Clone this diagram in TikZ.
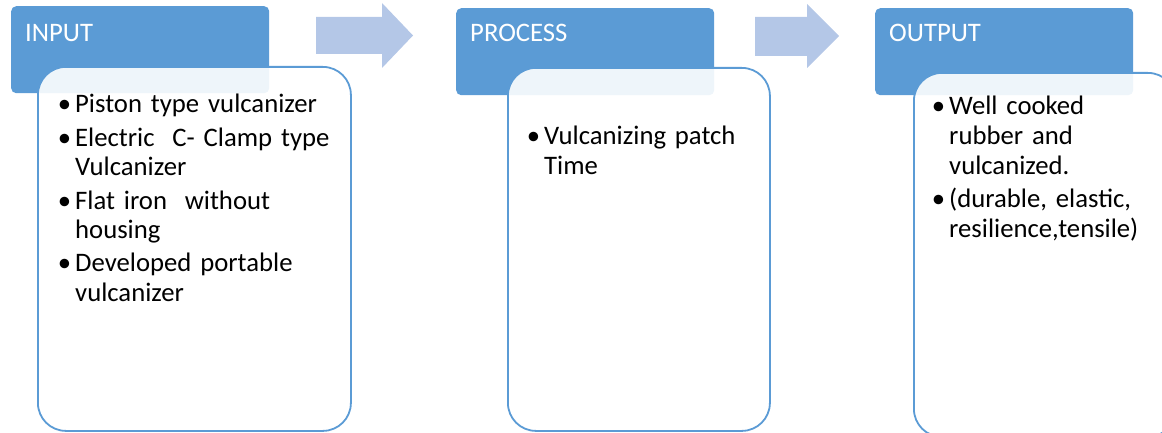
\documentclass[tikz,border=0pt]{standalone}
\usepackage{fontspec}
\setmainfont{Carlito}
\definecolor{hdrblue}{HTML}{5B9BD5}
\definecolor{arrowblue}{HTML}{B4C7E7}
% hanging bullet that also starts a new paragraph
\newcommand\bul{\leavevmode\llap{\textbullet\hspace{4pt}}}
\begin{document}
\begin{tikzpicture}[x=1pt,y=-1pt,
  hdr/.style={draw=none, fill=hdrblue, rounded corners=5pt, anchor=north west, inner sep=0pt},
  card/.style={draw=hdrblue, line width=1.8pt, fill=white, fill opacity=0.9, rounded corners=28pt, anchor=north west, inner sep=0pt},
  hdrtext/.style={text=white, font=\fontsize{26.7pt}{30pt}\selectfont, anchor=base west, inner sep=0pt},
  bodytext/.style={text=black, font=\fontsize{26.7pt}{29.7pt}\selectfont, anchor=base west, inner sep=0pt, align=left, text width=#1},
  flow/.style={fill=arrowblue, draw=none}]
\path[use as bounding box, clip] (0,0) rectangle (1162,433);

% flow arrows between the stages
\fill[flow] (316,17) -- (382,17) -- (382,3) -- (413,35.5) -- (382,68) -- (382,54) -- (316,54) -- cycle;
\fill[flow] (755,17) -- (807,17) -- (807,4) -- (839,36) -- (807,68) -- (807,56) -- (755,56) -- cycle;

% stage headers
\node[hdr, minimum width=258pt, minimum height=87pt] (inhdr) at (11,6) {};
\node[hdr, minimum width=258pt, minimum height=87pt] (prhdr) at (456,8) {};
\node[hdr, minimum width=258pt, minimum height=87pt] (outhdr) at (875,8) {};

% content cards, overlapping the headers
\node[card, minimum width=313pt, minimum height=364pt] (incard) at (37,66) {};
\node[card, minimum width=262pt, minimum height=363pt] (prcard) at (507,67) {};
\node[card, minimum width=262pt, minimum height=364pt] (outcard) at (913,72) {};

% header titles
\node[hdrtext] (intitle) at (25,42) {INPUT};
\node[hdrtext] (prtitle) at (470,42) {PROCESS};
\node[hdrtext] (outtitle) at (889,42) {OUTPUT};

% card contents
\node[bodytext=270pt] (inlist) at (75,113) {%
\bul Piston type vulcanizer\\[3.5pt]
\bul Electric\ \ C- Clamp type\\
Vulcanizer\\[3.5pt]
\bul Flat iron\ \ without\\
housing\\[3.5pt]
\bul Developed portable\\
vulcanizer};
\node[bodytext=220pt] (prlist) at (544,145) {%
\bul Vulcanizing patch\\
Time};
\node[bodytext=210pt] (outlist) at (949,115) {%
\bul Well cooked\\
rubber and\\
vulcanized.\\[3.5pt]
\bul (durable, elastic,\\
resilience,tensile)};
\end{tikzpicture}
\end{document}
